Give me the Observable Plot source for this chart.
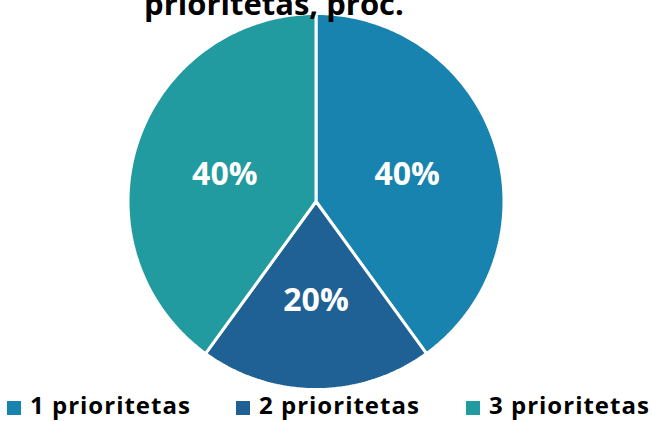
<!DOCTYPE html>
<html>
<head>
<meta charset="utf-8">
<script src="https://cdn.jsdelivr.net/npm/d3@7"></script>
<script src="https://cdn.jsdelivr.net/npm/@observablehq/plot@0.6"></script>
<style>
  html, body { margin: 0; padding: 0; background: #fff; overflow: hidden; }
  body { width: 652px; height: 421px; font-family: "Open Sans", Lato, sans-serif; }
  #title { height: 12px; position: relative; }
  #title span { position: absolute; left: 0; width: 548px; top: -12px; text-align: center;
    font-size: 31px; font-weight: 700; color: #000; line-height: 31px; white-space: nowrap; }
  #chart svg { display: block; }
  #legend { position: relative; height: 29px; }
  .item { position: absolute; top: 1px; display: flex; align-items: flex-start; font-size: 24px; font-weight: 700; color: #000; line-height: 24px; letter-spacing: 1px; white-space: nowrap; }
  .sw { width: 14px; height: 14px; margin-right: 9px; margin-top: 8px; }
</style>
</head>
<body>
<div id="title"><span>prioritetas, proc.</span></div>
<div id="chart"></div>
<div id="legend"></div>
<script>
const categories = ["1 prioritetas", "2 prioritetas", "3 prioritetas"];
const values = [0.40, 0.20, 0.40];
const colors = ["#1883AE", "#1F6195", "#219AA0"];

const pie = d3.pie().sort(null).value(d => d.value)(categories.map((c, i) => ({cat: c, value: values[i], color: colors[i]})));

// polygon points in unit-circle coordinates (angle 0 = 12 o'clock, clockwise)
const pts = [];
pie.forEach(s => {
  pts.push({cat: s.data.cat, x: 0, y: 0});
  const n = Math.max(2, Math.ceil((s.endAngle - s.startAngle) / (Math.PI / 180)));
  for (let k = 0; k <= n; k++) {
    const a = s.startAngle + (s.endAngle - s.startAngle) * k / n;
    pts.push({cat: s.data.cat, x: Math.sin(a), y: Math.cos(a)});
  }
  pts.push({cat: s.data.cat, x: 0, y: 0});
});
const labels = pie.map(s => {
  const a = (s.startAngle + s.endAngle) / 2;
  return {cat: s.data.cat, value: s.data.value, x: 0.51 * Math.sin(a), y: 0.51 * Math.cos(a)};
});

const W = 652, H = 380, R = 188, cx = 315.5, cy = 189;
const chart = Plot.plot({
  width: W, height: H,
  margin: 0,
  x: {domain: [-cx / R, (W - cx) / R], axis: null},
  y: {domain: [-(H - cy) / R, cy / R], axis: null},
  marks: [
    ...categories.map((c, i) => Plot.line(pts.filter(p => p.cat === c), {
      x: "x", y: "y", fill: colors[i], stroke: "#fff", strokeWidth: 3, strokeLinejoin: "miter"
    })),
    Plot.text(labels, {
      x: "x", y: "y", dy: 3, text: d => d3.format(".0%")(d.value),
      fill: "#fff", fontSize: 32, fontWeight: 700, fontFamily: "'Open Sans', Lato, sans-serif"
    })
  ]
});
document.getElementById("chart").appendChild(chart);

const lefts = [7, 236, 466];
const legend = document.getElementById("legend");
categories.forEach((c, i) => {
  const it = document.createElement("div");
  it.className = "item";
  it.style.left = lefts[i] + "px";
  it.innerHTML = `<div class="sw" style="background:${colors[i]}"></div><span>${c}</span>`;
  legend.appendChild(it);
});
</script>
</body>
</html>
